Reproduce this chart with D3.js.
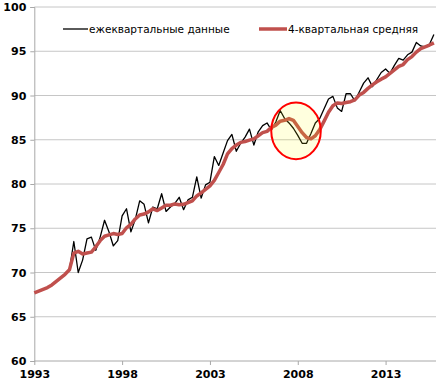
<!DOCTYPE html>
<html>
<head>
<meta charset="utf-8">
<script src="https://cdn.jsdelivr.net/npm/d3@7"></script>
<style>
  html, body { margin:0; padding:0; background:#fff; }
  svg { display:block; }
  .tick text { font-family:"DejaVu Sans", sans-serif; font-weight:bold; font-size:11px; fill:#000; }
  .legend text { font-family:"DejaVu Sans", sans-serif; font-size:10.5px; fill:#000; }
</style>
</head>
<body>
<svg id="chart" width="447" height="383"></svg>
<script>
// quarterly index, first quarter of each series
const avgStart = 1993;      // 4-quarter average starts 1993Q1
const qStart = 1995;        // quarterly data starts 1995Q1

const quarterly = [
  70.3, 73.5, 70.0, 71.4,  73.8, 74.0, 72.5, 74.0,  75.9, 74.6, 73.0, 73.6,
  76.4, 77.2, 74.6, 76.0,  78.1, 77.7, 75.6, 77.4,  77.2, 78.9, 76.9, 77.4,
  77.8, 78.5, 77.1, 78.2,  78.5, 80.8, 78.4, 79.9,  80.2, 83.1, 82.1, 83.5,
  84.9, 85.6, 83.7, 84.6,  85.3, 86.2, 84.4, 85.9,  86.6, 86.9, 86.1, 87.0,
  88.3, 87.4, 86.9, 86.3,  85.5, 84.6, 84.6, 85.7,  86.9, 87.4, 88.5, 89.6,
  89.9, 88.6, 88.2, 90.2,  90.2, 89.4, 90.4, 91.4,  92.0, 91.0, 91.8, 92.6,
  93.0, 92.5, 93.4, 94.2,  94.0, 94.6, 94.9, 96.0,  95.6, 95.5, 95.8, 96.9
];

const movingAvg = [
  67.7, 67.9, 68.1, 68.3,  68.6, 69.0, 69.4, 69.8,  70.3, 72.2, 72.4, 72.1,
  72.2, 72.3, 72.9, 73.6,  74.1, 74.25, 74.4, 74.3,  74.4, 75.05, 75.45, 76.05,
  76.5, 76.6, 76.85, 77.2,  77.0, 77.3, 77.6, 77.6,  77.75, 77.65, 77.7, 77.9,
  78.1, 78.65, 79.0, 79.4,  79.8, 80.4, 81.3, 82.2,  83.4, 84.0, 84.4, 84.7,
  84.8, 84.95, 85.1, 85.45,  85.8, 85.95, 86.4, 86.65,  87.1, 87.2, 87.4, 87.2,
  86.5, 85.8, 85.25, 85.1,  85.45, 86.15, 87.1, 88.1,  88.85, 89.15, 89.1, 89.2,
  89.3, 89.5, 90.05, 90.35,  90.8, 91.2, 91.55, 91.85,  92.1, 92.5, 92.9, 93.3,
  93.5, 94.05, 94.4, 94.9,  95.3, 95.5, 95.7, 95.95
];

const yTicks = [60, 65, 70, 75, 80, 85, 90, 95, 100];
const xTicks = [1993, 1998, 2003, 2008, 2013];
const seriesNames = ['ежеквартальные данные', '4-квартальная средняя'];
// highlighted slump: centre (year, value) and half-extent
const highlight = { t: 2007.9, v: 86.0, dt: 1.41, dv: 3.2 };

const svg = d3.select('#chart');
const x = d3.scaleLinear().domain([1993, 2015.87]).range([34.3, 436]);
const y = d3.scaleLinear().domain([60, 100]).range([361, 7]);

// gridlines
svg.append('g').selectAll('line').data(yTicks.slice(1)).join('line')
  .attr('x1', x(1993)).attr('x2', x.range()[1])
  .attr('y1', d => y(d)).attr('y2', d => y(d))
  .attr('stroke', '#c6c6c6').attr('stroke-width', 1);

// axes
const yAxis = svg.append('g').attr('transform', `translate(${x(1993)},0)`)
  .call(d3.axisLeft(y).tickValues(yTicks).tickSize(4).tickPadding(4));
const xAxis = svg.append('g').attr('transform', `translate(0,${y(60)})`)
  .call(d3.axisBottom(x).tickValues(xTicks).tickFormat(d3.format('d')).tickSize(4).tickPadding(5));
[yAxis, xAxis].forEach(a => {
  a.select('.domain').attr('stroke', '#a8a8a8');
  a.selectAll('.tick line').attr('stroke', '#a8a8a8');
});
xAxis.select('.domain').attr('d', `M${x(1993)},0H${x.range()[1]}`);

const line = d3.line().x(d => x(d[0])).y(d => y(d[1]));
const qData = quarterly.map((v, i) => [qStart + i / 4, v]);
const aData = movingAvg.map((v, i) => [avgStart + i / 4, v]);

svg.append('path').datum(qData).attr('d', line)
  .attr('fill', 'none').attr('stroke', '#000').attr('stroke-width', 1.3).attr('stroke-linejoin', 'round');
svg.append('path').datum(aData).attr('d', line)
  .attr('fill', 'none').attr('stroke', '#c0504d').attr('stroke-width', 3.5).attr('stroke-linejoin', 'round');

// annotation ellipse over the 2008 dip
svg.append('ellipse')
  .attr('cx', x(highlight.t)).attr('cy', y(highlight.v))
  .attr('rx', x(highlight.t + highlight.dt) - x(highlight.t))
  .attr('ry', y(highlight.v) - y(highlight.v + highlight.dv))
  .attr('fill', '#ffff00').attr('fill-opacity', 0.13)
  .attr('stroke', '#ff0000').attr('stroke-width', 2);

// legend
const leg = svg.append('g').attr('class', 'legend');
const legItems = [
  { name: seriesNames[0], color: '#000', w: 1.3, x0: 63, x1: 88 },
  { name: seriesNames[1], color: '#c0504d', w: 3.5, x0: 259, x1: 287 }
];
legItems.forEach(it => {
  leg.append('line').attr('x1', it.x0).attr('x2', it.x1).attr('y1', 29).attr('y2', 29)
    .attr('stroke', it.color).attr('stroke-width', it.w);
  leg.append('text').attr('x', it.x1 + 1).attr('y', 29).attr('dy', '0.35em').text(it.name);
});
</script>
</body>
</html>
